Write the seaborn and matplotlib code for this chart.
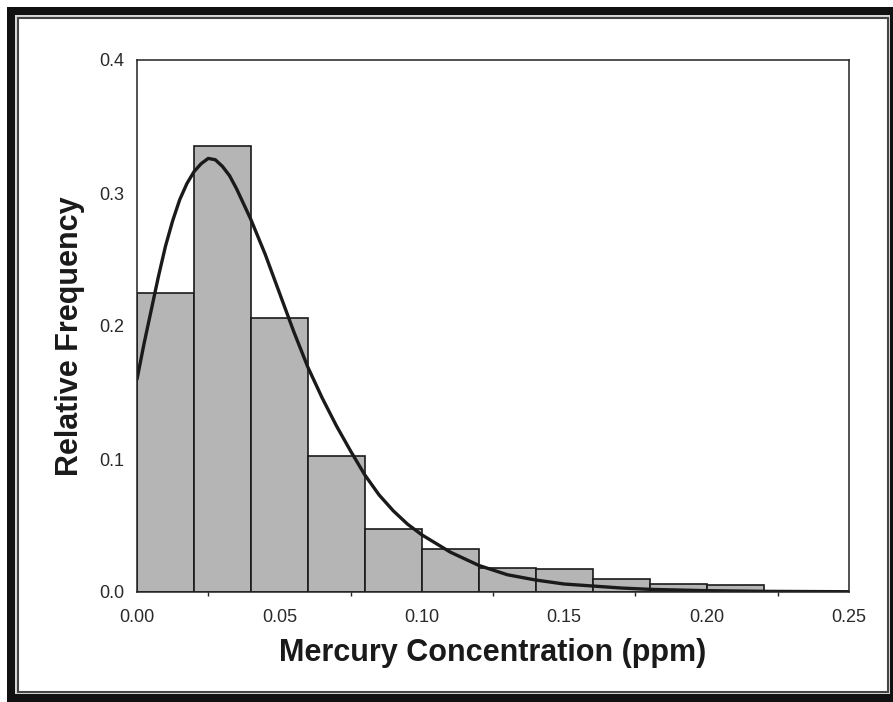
"""
Relative frequency histogram of mercury concentration with fitted curve
"""

import matplotlib
matplotlib.use("Agg")
import matplotlib.pyplot as plt
from matplotlib.patches import Rectangle
from matplotlib.ticker import MultipleLocator
import seaborn as sns

# histogram bins (ppm) and relative frequencies
bin_edges = [0.00, 0.02, 0.04, 0.06, 0.08, 0.10, 0.12, 0.14, 0.16, 0.18, 0.20, 0.22]
rel_freq = [0.225, 0.335, 0.206, 0.102, 0.047, 0.032, 0.018, 0.017, 0.0095, 0.006, 0.005]

# fitted curve
curve_x = [0.000, 0.0025, 0.005, 0.0075, 0.010, 0.0125, 0.015, 0.0175, 0.020, 0.0225,
           0.025, 0.0275, 0.030, 0.0325, 0.035, 0.040, 0.045,
           0.050, 0.055, 0.060, 0.065, 0.070, 0.075, 0.080, 0.085, 0.090, 0.095,
           0.100, 0.110, 0.120, 0.130, 0.140, 0.150, 0.160, 0.170, 0.180, 0.200,
           0.220, 0.250]
curve_y = [0.160, 0.187, 0.212, 0.237, 0.260, 0.279, 0.295, 0.307, 0.316, 0.322,
           0.326, 0.325, 0.320, 0.313, 0.303, 0.280, 0.254,
           0.225, 0.196, 0.169, 0.146, 0.125, 0.106, 0.088, 0.073, 0.061, 0.051,
           0.043, 0.030, 0.020, 0.013, 0.009, 0.006, 0.0045, 0.003, 0.002, 0.001,
           0.0005, 0.0002]

x_ticks = [0.00, 0.05, 0.10, 0.15, 0.20, 0.25]
y_ticks = [0.0, 0.1, 0.2, 0.3, 0.4]

sns.set_style("white")
plt.rcParams["font.family"] = ["Liberation Sans", "DejaVu Sans"]

W, H = 893, 702
fig = plt.figure(figsize=(W / 100, H / 100), dpi=100)
fig.patch.set_facecolor("white")


def px_rect(x0, y0, x1, y1, **kw):
    # rectangle given in pixel coords, origin top-left
    return Rectangle((x0 / W, 1 - y1 / H), (x1 - x0) / W, (y1 - y0) / H,
                     transform=fig.transFigure, zorder=-10, **kw)


# picture frame
fig.patches.append(px_rect(7, 7, 893, 702, facecolor="#111111", edgecolor="none"))
fig.patches.append(px_rect(15, 15, 890, 694, facecolor="#d8d8d8", edgecolor="none"))
fig.patches.append(px_rect(18, 18, 888, 692, facecolor="white", edgecolor="#444444",
                           linewidth=1.5))

ax = fig.add_axes([137 / W, 1 - 592 / H, (849 - 137) / W, (592 - 60) / H])
ax.set_zorder(5)
ax.set_facecolor("white")

centers = [(a + b) / 2 for a, b in zip(bin_edges[:-1], bin_edges[1:])]
sns.histplot(x=centers, weights=rel_freq, bins=bin_edges, stat="count",
             color="#b5b5b5", alpha=1, edgecolor="#1a1a1a", linewidth=1.2, ax=ax)
sns.lineplot(x=curve_x, y=curve_y, color="#1a1a1a", linewidth=2.4, ax=ax)

ax.set_xlim(0, 0.25)
ax.set_ylim(0, 0.4)
ax.set_xticks(x_ticks)
ax.set_xticklabels([f"{t:.2f}" for t in x_ticks])
ax.set_yticks(y_ticks)
ax.set_yticklabels([f"{t:.1f}" for t in y_ticks])
ax.xaxis.set_minor_locator(MultipleLocator(0.025))
ax.tick_params(axis="both", which="major", direction="out", length=5, width=1,
               color="#222222", labelsize=13, labelcolor="#2a2a2a", pad=4)
ax.tick_params(axis="x", which="minor", direction="out", length=3, width=1,
               color="#222222", bottom=True)
ax.tick_params(axis="x", pad=7)
for s in ax.spines.values():
    s.set_visible(True)
    s.set_color("#222222")
    s.set_linewidth(1.1)

ax.set_xlabel("Mercury Concentration (ppm)", fontsize=22, fontweight="bold",
              color="#1a1a1a", labelpad=9)
ax.set_ylabel("Relative Frequency", fontsize=22, fontweight="bold",
              color="#1a1a1a", labelpad=10)
ax.yaxis.label.set_y(0.481)

fig.savefig("out.png", dpi=100)
